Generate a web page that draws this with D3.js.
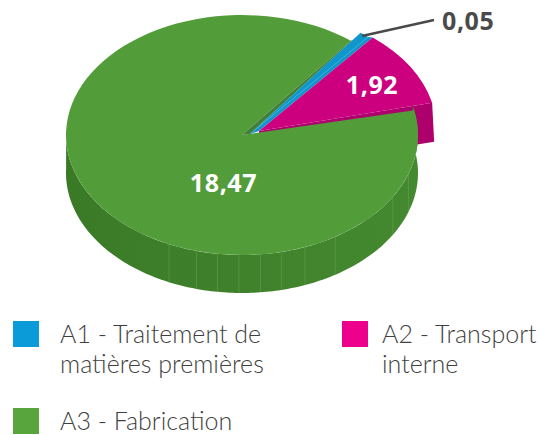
<!DOCTYPE html>
<html>
<head>
<meta charset="utf-8">
<script src="https://cdn.jsdelivr.net/npm/d3@7"></script>
<style>
    html, body { margin: 0; padding: 0; background: #fff; overflow: hidden; }
    svg { display: block; }
    .legend { font-family: Lato, sans-serif; font-weight: 300; font-size: 25px; fill: #3f3f3f; }
    .value { font-family: "Open Sans", sans-serif; font-weight: 700; font-size: 25px; letter-spacing: 0.6px; }
</style>
</head>
<body>
<div id="chart"></div>
<script>
// Data
const categories = ["A1", "A2", "A3"];
const values = ["0,05", "1,92", "18,47"];
// share of the disc each slice takes in the picture, in percent
const shares = [0.83, 10.25, 88.92];
const legendLines = [
    ["A1 - Traitement de", "matières premières"],
    ["A2 - Transport", "interne"],
    ["A3 - Fabrication"]
];
// faint seams on the side of the disc, degrees clockwise from the top
const seamAngles = [109, 121, 148, 159, 167, 174, 181, 188, 195, 204.5];

const topColors = {A1: "#0f97cc", A2: "#cc007f", A3: "#529d3a"};
const sideColors = {A1: "#0b7aa6", A2: "#ae006c", A3: "#3f832c"};
const legendColors = {A1: "#0a9bd8", A2: "#ec008c", A3: "#58a53d"};

const params = {
    width: 538,
    height: 435,
    rx: 176,
    ry: 120,
    depth: 38,
    startDeg: 36.7,
    a3Overlap: 1.5
};

// where each slice's apex sits once pulled out of the disc
const slicePos = {
    A1: {x: 250, y: 134, r: 185},
    A2: {x: 259, y: 131, r: 178},
    A3: {x: 242, y: 135, r: 176}
};

const svg = d3.select("#chart")
    .append("svg")
    .attr("width", params.width)
    .attr("height", params.height)
    .attr("viewBox", `0 0 ${params.width} ${params.height}`);

const squash = params.ry / params.rx;
const rad = d => d * Math.PI / 180;

const pie = d3.pie()
    .sort(null)
    .startAngle(rad(params.startDeg))
    .endAngle(rad(params.startDeg + 360))
    .value(d => d.share);

const slices = pie(categories.map((c, i) => ({key: c, share: shares[i], value: values[i]})));
const byKey = Object.fromEntries(slices.map(d => [d.data.key, d]));

// the green slice is pulled a little past both of its neighbours' cuts
const a3 = byKey.A3;
const a3Top = {
    startAngle: a3.startAngle + rad(params.a3Overlap),
    endAngle: a3.endAngle + rad(params.a3Overlap)
};

const a1 = byKey.A1;
const a2 = byKey.A2;

// position on the flattened rim of a slice
function rimX(key, a) { return slicePos[key].x + slicePos[key].r * Math.sin(a); }
function rimY(key, a) { return slicePos[key].y - slicePos[key].r * squash * Math.cos(a); }

function drawTop(g, key, angles) {
    g.append("path")
        .attr("transform", `translate(${slicePos[key].x}, ${slicePos[key].y}) scale(1, ${squash})`)
        .attr("fill", topColors[key])
        .attr("d", d3.arc().innerRadius(0).outerRadius(slicePos[key].r)(angles));
}

const layer = svg.append("g");

// A2 cut face, the only bit of wall of this slice that shows
layer.append("path")
    .attr("fill", sideColors.A2)
    .attr("d", d3.line()([
        [slicePos.A2.x, slicePos.A2.y],
        [rimX("A2", a2.endAngle), rimY("A2", a2.endAngle)],
        [rimX("A2", a2.endAngle) + 2, rimY("A2", a2.endAngle) + 39],
        [slicePos.A2.x, slicePos.A2.y + 39]
    ]));

// A3 side wall
const wallAngles = d3.range(rad(76), rad(272), rad(1));
const wallArea = d3.area()
    .x(a => rimX("A3", a))
    .y0(a => rimY("A3", a))
    .y1(a => rimY("A3", a) + params.depth);

const wallGradient = svg.append("defs")
    .append("linearGradient")
    .attr("id", "wall");
wallGradient.append("stop").attr("offset", "0%").attr("stop-color", "#3a7a27");
wallGradient.append("stop").attr("offset", "100%").attr("stop-color", "#44892f");

layer.append("path")
    .attr("fill", "url(#wall)")
    .attr("d", wallArea(wallAngles));

layer.selectAll(".seam")
    .data(seamAngles)
    .join("line")
    .attr("class", "seam")
    .attr("x1", d => rimX("A3", rad(d)))
    .attr("x2", d => rimX("A3", rad(d)))
    .attr("y1", d => rimY("A3", rad(d)))
    .attr("y2", d => rimY("A3", rad(d)) + params.depth)
    .attr("stroke", "#8dbb7c")
    .attr("stroke-width", 0.7)
    .attr("stroke-opacity", 0.4);

drawTop(layer, "A3", a3Top);

// dark sliver along the A3 cut, next to the blue slice
const blueEdge = d3.interpolateObject(
    {x: slicePos.A1.x, y: slicePos.A1.y},
    {x: rimX("A1", a1.startAngle), y: rimY("A1", a1.startAngle)}
)(0.93);

layer.append("path")
    .attr("fill", "#427f36")
    .attr("d", d3.line()([
        [slicePos.A3.x, slicePos.A3.y],
        [rimX("A3", a3Top.endAngle), rimY("A3", a3Top.endAngle)],
        [blueEdge.x, blueEdge.y],
        [slicePos.A1.x, slicePos.A1.y]
    ]));

// blue strip closes the gap up to the magenta slice, which goes on top
layer.append("path")
    .attr("fill", topColors.A1)
    .attr("d", d3.line()([
        [slicePos.A1.x, slicePos.A1.y],
        [slicePos.A2.x, slicePos.A2.y],
        [rimX("A2", a2.startAngle), rimY("A2", a2.startAngle)],
        [rimX("A1", a1.endAngle), rimY("A1", a1.endAngle)]
    ]));

drawTop(layer, "A1", a1);
drawTop(layer, "A2", a2);

// Leader line for the small slice
svg.append("line")
    .attr("x1", 362)
    .attr("y1", 36)
    .attr("x2", 434)
    .attr("y2", 20)
    .attr("stroke", "#4a4a4a")
    .attr("stroke-width", 2.4);

// Value labels
const valueLabels = [
    {text: values[0], x: 442, y: 30, fill: "#4a4a4a", anchor: "start"},
    {text: values[1], x: 372, y: 93.5, fill: "#fff", anchor: "middle"},
    {text: values[2], x: 223.5, y: 191.5, fill: "#fff", anchor: "middle"}
];

svg.selectAll(".value")
    .data(valueLabels)
    .join("text")
    .attr("class", "value")
    .attr("x", d => d.x)
    .attr("y", d => d.y)
    .attr("fill", d => d.fill)
    .attr("text-anchor", d => d.anchor)
    .text(d => d.text);

// Legend
const legendPos = [
    {x: 13, y: 321},
    {x: 342, y: 321},
    {x: 13, y: 408}
];

const legend = svg.selectAll(".legend-item")
    .data(categories)
    .join("g")
    .attr("class", "legend-item")
    .attr("transform", (d, i) => `translate(${legendPos[i].x}, ${legendPos[i].y})`);

legend.append("rect")
    .attr("width", 26)
    .attr("height", 26)
    .attr("fill", d => legendColors[d]);

legend.each(function(d, i) {
    d3.select(this).selectAll("text")
        .data(legendLines[i])
        .join("text")
        .attr("class", "legend")
        .attr("x", i === 1 ? 40 : 47)
        .attr("y", (t, j) => 21.5 + j * 30)
        .text(t => t);
});
</script>
</body>
</html>
